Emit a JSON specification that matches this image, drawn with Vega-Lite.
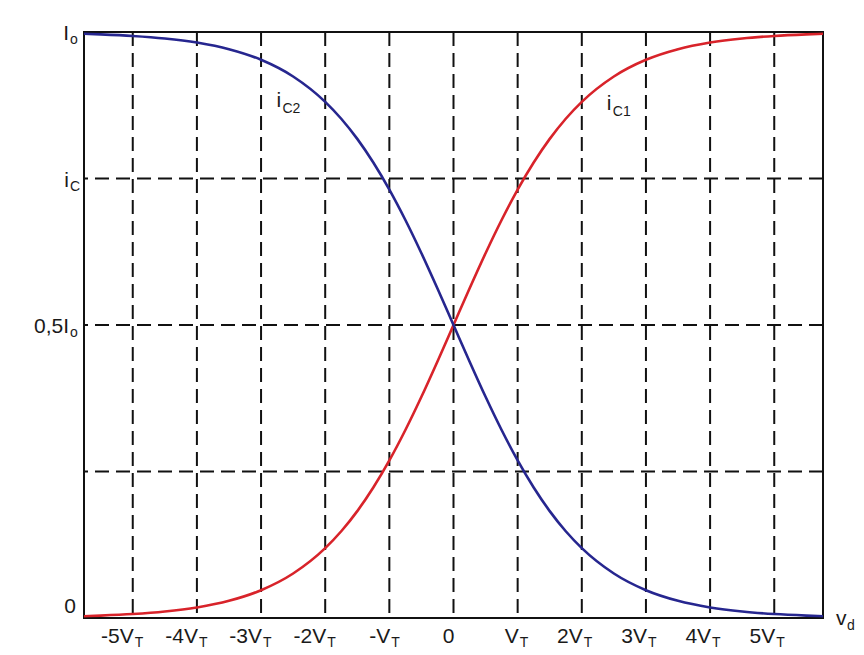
{
  "$schema": "https://vega.github.io/schema/vega-lite/v6.json",
  "width": 739,
  "height": 586,
  "autosize": {"type": "none"},
  "padding": {"left": 84, "top": 32, "right": 41, "bottom": 37},
  "background": "#ffffff",
  "config": {
    "view": {"stroke": "#111111", "strokeWidth": 2},
    "axis": {"disable": true},
    "text": {"font": "Liberation Sans", "fill": "#1a1a1a"}
  },
  "layer": [
    {
      "data": {"values": [{"v": -5}, {"v": -4}, {"v": -3}, {"v": -2}, {"v": -1}, {"v": 0}, {"v": 1}, {"v": 2}, {"v": 3}, {"v": 4}, {"v": 5}]},
      "mark": {"type": "rule", "strokeDash": [14, 7], "strokeWidth": 2, "color": "#111111"},
      "encoding": {
        "x": {"field": "v", "type": "quantitative", "scale": {"domain": [-5.76, 5.76], "nice": false, "zero": false}, "axis": null}
      }
    },
    {
      "data": {"values": [{"h": 0.25}, {"h": 0.5}, {"h": 0.75}]},
      "mark": {"type": "rule", "strokeDash": [14, 7], "strokeWidth": 2, "color": "#111111"},
      "encoding": {
        "y": {"field": "h", "type": "quantitative", "scale": {"domain": [0, 1], "nice": false, "zero": false}, "axis": null}
      }
    },
    {
      "data": {"values": [
        {"x": -5.76, "iC1": 0.0031, "iC2": 0.9969},
        {"x": -5.5, "iC1": 0.0041, "iC2": 0.9959},
        {"x": -5, "iC1": 0.0067, "iC2": 0.9933},
        {"x": -4.5, "iC1": 0.0110, "iC2": 0.9890},
        {"x": -4, "iC1": 0.0180, "iC2": 0.9820},
        {"x": -3.5, "iC1": 0.0293, "iC2": 0.9707},
        {"x": -3, "iC1": 0.0474, "iC2": 0.9526},
        {"x": -2.5, "iC1": 0.0759, "iC2": 0.9241},
        {"x": -2, "iC1": 0.1192, "iC2": 0.8808},
        {"x": -1.75, "iC1": 0.1480, "iC2": 0.8520},
        {"x": -1.5, "iC1": 0.1824, "iC2": 0.8176},
        {"x": -1.25, "iC1": 0.2227, "iC2": 0.7773},
        {"x": -1, "iC1": 0.2689, "iC2": 0.7311},
        {"x": -0.75, "iC1": 0.3208, "iC2": 0.6792},
        {"x": -0.5, "iC1": 0.3775, "iC2": 0.6225},
        {"x": -0.25, "iC1": 0.4378, "iC2": 0.5622},
        {"x": 0, "iC1": 0.5, "iC2": 0.5},
        {"x": 0.25, "iC1": 0.5622, "iC2": 0.4378},
        {"x": 0.5, "iC1": 0.6225, "iC2": 0.3775},
        {"x": 0.75, "iC1": 0.6792, "iC2": 0.3208},
        {"x": 1, "iC1": 0.7311, "iC2": 0.2689},
        {"x": 1.25, "iC1": 0.7773, "iC2": 0.2227},
        {"x": 1.5, "iC1": 0.8176, "iC2": 0.1824},
        {"x": 1.75, "iC1": 0.8520, "iC2": 0.1480},
        {"x": 2, "iC1": 0.8808, "iC2": 0.1192},
        {"x": 2.5, "iC1": 0.9241, "iC2": 0.0759},
        {"x": 3, "iC1": 0.9526, "iC2": 0.0474},
        {"x": 3.5, "iC1": 0.9707, "iC2": 0.0293},
        {"x": 4, "iC1": 0.9820, "iC2": 0.0180},
        {"x": 4.5, "iC1": 0.9890, "iC2": 0.0110},
        {"x": 5, "iC1": 0.9933, "iC2": 0.0067},
        {"x": 5.5, "iC1": 0.9959, "iC2": 0.0041},
        {"x": 5.76, "iC1": 0.9969, "iC2": 0.0031}
      ]},
      "transform": [{"fold": ["iC1", "iC2"], "as": ["curve", "i"]}],
      "mark": {"type": "line", "strokeWidth": 2.6, "interpolate": "monotone"},
      "encoding": {
        "x": {"field": "x", "type": "quantitative", "axis": null},
        "y": {"field": "i", "type": "quantitative", "axis": null},
        "color": {"field": "curve", "type": "nominal", "scale": {"domain": ["iC1", "iC2"], "range": ["#d8232a", "#26268f"]}, "legend": null}
      }
    },
    {
      "data": {"values": [
        {"v": -5, "m": "-5V"}, {"v": -4, "m": "-4V"}, {"v": -3, "m": "-3V"},
        {"v": -2, "m": "-2V"}, {"v": -1, "m": "-V"}, {"v": 0, "m": "0"},
        {"v": 1, "m": "V"}, {"v": 2, "m": "2V"}, {"v": 3, "m": "3V"},
        {"v": 4, "m": "4V"}, {"v": 5, "m": "5V"}
      ]},
      "mark": {"type": "text", "align": "right", "baseline": "alphabetic", "dx": 1, "dy": 25, "fontSize": 21},
      "encoding": {
        "x": {"field": "v", "type": "quantitative", "axis": null},
        "y": {"datum": 0, "axis": null},
        "text": {"field": "m"}
      }
    },
    {
      "data": {"values": [
        {"v": -5, "s": "T"}, {"v": -4, "s": "T"}, {"v": -3, "s": "T"}, {"v": -2, "s": "T"}, {"v": -1, "s": "T"},
        {"v": 1, "s": "T"}, {"v": 2, "s": "T"}, {"v": 3, "s": "T"}, {"v": 4, "s": "T"}, {"v": 5, "s": "T"}
      ]},
      "mark": {"type": "text", "align": "left", "baseline": "alphabetic", "dx": 2, "dy": 29, "fontSize": 14},
      "encoding": {
        "x": {"field": "v", "type": "quantitative", "axis": null},
        "y": {"datum": 0, "axis": null},
        "text": {"field": "s"}
      }
    },
    {
      "data": {"values": [{"y": 1, "m": "I"}, {"y": 0.75, "m": "i"}, {"y": 0.5, "m": "0,5I"}]},
      "mark": {"type": "text", "align": "right", "baseline": "alphabetic", "dx": -15, "dy": 8, "fontSize": 21},
      "encoding": {
        "x": {"datum": -5.76, "axis": null},
        "y": {"field": "y", "type": "quantitative", "axis": null},
        "text": {"field": "m"}
      }
    },
    {
      "data": {"values": [{"y": 1, "s": "o"}, {"y": 0.75, "s": "C"}, {"y": 0.5, "s": "o"}]},
      "mark": {"type": "text", "align": "left", "baseline": "alphabetic", "dx": -14, "dy": 12, "fontSize": 14},
      "encoding": {
        "x": {"datum": -5.76, "axis": null},
        "y": {"field": "y", "type": "quantitative", "axis": null},
        "text": {"field": "s"}
      }
    },
    {
      "data": {"values": [{"y": 0, "m": "0"}]},
      "mark": {"type": "text", "align": "right", "baseline": "alphabetic", "dx": -8, "dy": -5, "fontSize": 21},
      "encoding": {
        "x": {"datum": -5.76, "axis": null},
        "y": {"field": "y", "type": "quantitative", "axis": null},
        "text": {"field": "m"}
      }
    },
    {
      "data": {"values": [{"x": -2.76, "y": 0.872, "m": "i"}, {"x": 2.39, "y": 0.867, "m": "i"}]},
      "mark": {"type": "text", "align": "left", "baseline": "alphabetic", "fontSize": 21},
      "encoding": {
        "x": {"field": "x", "type": "quantitative", "axis": null},
        "y": {"field": "y", "type": "quantitative", "axis": null},
        "text": {"field": "m"}
      }
    },
    {
      "data": {"values": [{"x": -2.76, "y": 0.872, "s": "C2"}, {"x": 2.39, "y": 0.867, "s": "C1"}]},
      "mark": {"type": "text", "align": "left", "baseline": "alphabetic", "dx": 6, "dy": 6, "fontSize": 14},
      "encoding": {
        "x": {"field": "x", "type": "quantitative", "axis": null},
        "y": {"field": "y", "type": "quantitative", "axis": null},
        "text": {"field": "s"}
      }
    },
    {
      "data": {"values": [{"m": "v"}]},
      "mark": {"type": "text", "align": "left", "baseline": "alphabetic", "dx": 13, "dy": 7, "fontSize": 21},
      "encoding": {
        "x": {"datum": 5.76, "axis": null},
        "y": {"datum": 0, "axis": null},
        "text": {"field": "m"}
      }
    },
    {
      "data": {"values": [{"s": "d"}]},
      "mark": {"type": "text", "align": "left", "baseline": "alphabetic", "dx": 24, "dy": 12, "fontSize": 14},
      "encoding": {
        "x": {"datum": 5.76, "axis": null},
        "y": {"datum": 0, "axis": null},
        "text": {"field": "s"}
      }
    }
  ]
}
